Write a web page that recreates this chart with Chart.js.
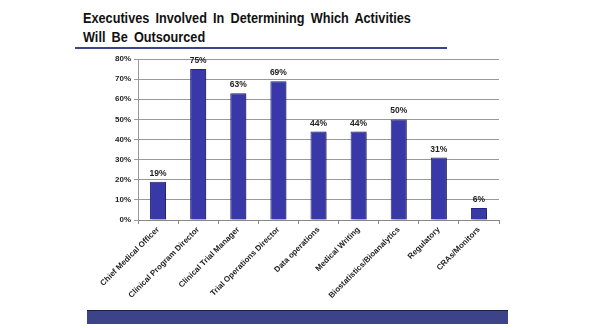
<!DOCTYPE html>
<html><head><meta charset="utf-8">
<script src="https://cdn.jsdelivr.net/npm/chart.js@4.4.1/dist/chart.umd.min.js"></script>
<style>
html,body{margin:0;padding:0;background:#fff;}
#wrap{position:relative;width:596px;height:330px;overflow:hidden;background:#fff;}
#title{position:absolute;left:83px;top:9px;font:bold 14.5px "Liberation Sans",Arial,sans-serif;line-height:19px;color:#111;word-spacing:3px;white-space:nowrap;transform:scaleX(0.875);transform-origin:0 0;}
#rule{position:absolute;left:75px;top:47px;width:372px;height:2px;background:#3a4490;}
#banner{position:absolute;left:87px;top:310px;width:421px;height:14px;background:#3c4389;border-top:1px solid #1c1f50;box-sizing:border-box;}
#cv{position:absolute;left:0;top:0;}
</style></head><body>
<div id="wrap">
<div id="title">Executives  Involved  In Determining  Which Activities<br>Will Be Outsourced</div>
<div id="rule"></div>
<canvas id="cv" width="596" height="330"></canvas>
<div id="banner"></div>
</div>
<script>
const categories = ["Chief Medical Officer","Clinical Program Director","Clinical Trial Manager","Trial Operations Director","Data operations","Medical Writing","Biostatistics/Bioanalytics","Regulatory","CRAs/Monitors"];
const values = [19,75,63,69,44,44,50,31,6];
const yTicks = [0,10,20,30,40,50,60,70,80];

const shadowPlugin = {
  id:'shadow',
  beforeDatasetsDraw(chart){const c=chart.ctx;c.save();c.shadowColor='rgba(0,0,0,0.35)';c.shadowOffsetX=2;c.shadowOffsetY=1;c.shadowBlur=2;},
  afterDatasetsDraw(chart){chart.ctx.restore();}
};
const labelPlugin = {
  id:'vlabels',
  afterDatasetsDraw(chart){
    const c=chart.ctx;const meta=chart.getDatasetMeta(0);
    c.save();c.font='bold 8.5px "Liberation Sans",Arial,sans-serif';c.fillStyle='#222';c.textAlign='center';c.textBaseline='bottom';
    meta.data.forEach((b,i)=>{c.fillText(values[i]+'%',b.x,b.y-4);});
    c.restore();
  }
};
new Chart(document.getElementById('cv'),{
  type:'bar',
  data:{labels:categories,datasets:[{data:values,backgroundColor:'#3838a8',borderColor:'#26267e',borderWidth:1,borderSkipped:'bottom',barPercentage:0.4,categoryPercentage:1}]},
  plugins:[shadowPlugin,labelPlugin],
  options:{
    responsive:false,animation:false,
    layout:{padding:{left:0,top:59,right:97,bottom:0}},
    plugins:{legend:{display:false},tooltip:{enabled:false}},
    scales:{
      x:{
        afterFit(s){s.height=110;},
        grid:{display:true,drawOnChartArea:false,drawTicks:true,tickLength:4,color:'#888',offset:true},
        border:{display:true,color:'#888'},
        ticks:{maxRotation:45,minRotation:45,autoSkip:false,color:'#222',font:{family:'"Liberation Sans",Arial,sans-serif',size:8,weight:'bold'},padding:1}
      },
      y:{
        min:0,max:80,
        afterFit(s){s.width=138;},
        afterBuildTicks(s){s.ticks=yTicks.map(v=>({value:v}));},
        grid:{color:'#999',tickLength:4,lineWidth:1},
        border:{display:true,color:'#999'},
        ticks:{color:'#222',font:{family:'"Liberation Sans",Arial,sans-serif',size:8,weight:'bold'},padding:3,callback:v=>v+'%'}
      }
    }
  }
});
</script>
</body></html>
